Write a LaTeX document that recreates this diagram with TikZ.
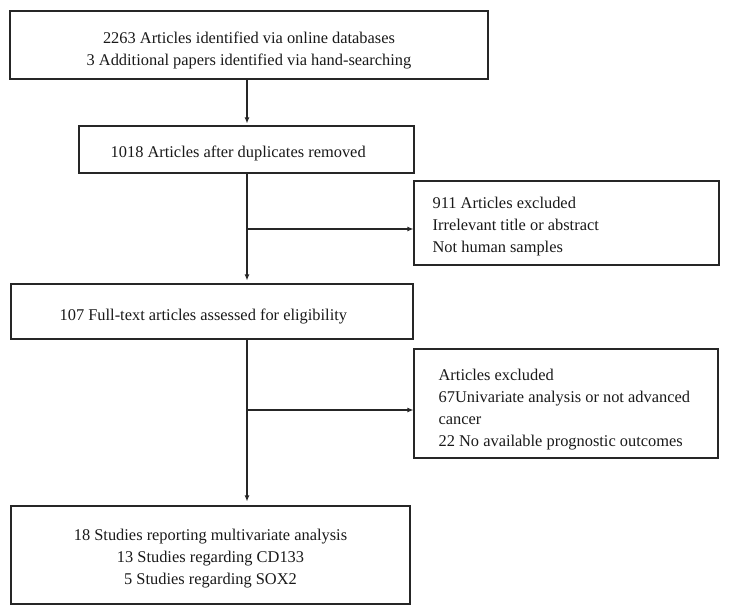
\documentclass[tikz,border=0pt]{standalone}
\usepackage{fontspec}
\setmainfont{Liberation Serif}
\usetikzlibrary{arrows.meta}
\begin{document}
\begin{tikzpicture}[x=1pt,y=-1pt,
  frame/.style={draw=black!85,line width=1.1pt,inner sep=0pt},
  txt/.style={inner sep=0pt,text=black!90,font=\fontsize{16.4}{22}\selectfont},
  arr/.style={draw=black!85,line width=1.1pt,-{Latex[length=6pt,width=5pt]}}]
\useasboundingbox (0,0) rectangle (729,615);
% boxes
\node[frame,minimum width=478pt,minimum height=68pt] (b1) at (249,45) {};
\node[frame,minimum width=335pt,minimum height=47pt] (b2) at (246.5,149.5) {};
\node[frame,minimum width=305pt,minimum height=84pt] (s1) at (566.5,223) {};
\node[frame,minimum width=402pt,minimum height=55pt] (b3) at (212,311.5) {};
\node[frame,minimum width=304pt,minimum height=109pt] (s2) at (566,403.5) {};
\node[frame,minimum width=399pt,minimum height=98pt] (b4) at (210.5,555) {};
% texts
\node[txt,align=center] (b1t) at ([yshift=-5pt]b1.center)
  {2263 Articles identified via online databases\\3 Additional papers identified via hand-searching};
\node[txt,anchor=west,align=left] (b2t) at ([xshift=32pt,yshift=-4pt]b2.west)
  {1018 Articles after duplicates removed};
\node[txt,anchor=west,align=left] (s1t) at ([xshift=19pt,yshift=-4pt]s1.west)
  {911 Articles excluded\\Irrelevant title or abstract\\Not human samples};
\node[txt,anchor=west,align=left] (b3t) at ([xshift=49pt,yshift=-5pt]b3.west)
  {107 Full-text articles assessed for eligibility};
\node[txt,anchor=west,align=left] (s2t) at ([xshift=25pt,yshift=-6pt]s2.west)
  {Articles excluded\\67Univariate analysis or not advanced\\cancer\\22 No available prognostic outcomes};
\node[txt,align=center] (b4t) at ([yshift=-4pt]b4.center)
  {18 Studies reporting multivariate analysis\\13 Studies regarding CD133\\5 Studies regarding SOX2};
% connectors
\coordinate (t1) at (247,229);
\coordinate (t2) at (247,410);
\draw[arr,shorten >=2pt] (b1.south -| t1) -- (b2.north -| t1);
\draw[arr,shorten >=3pt] (b2.south -| t1) -- (b3.north -| t1);
\draw[arr] (t1) -- (t1 -| s1.west);
\draw[arr,shorten >=4pt] (b3.south -| t2) -- (b4.north -| t2);
\draw[arr] (t2) -- (t2 -| s2.west);
\end{tikzpicture}
\end{document}
